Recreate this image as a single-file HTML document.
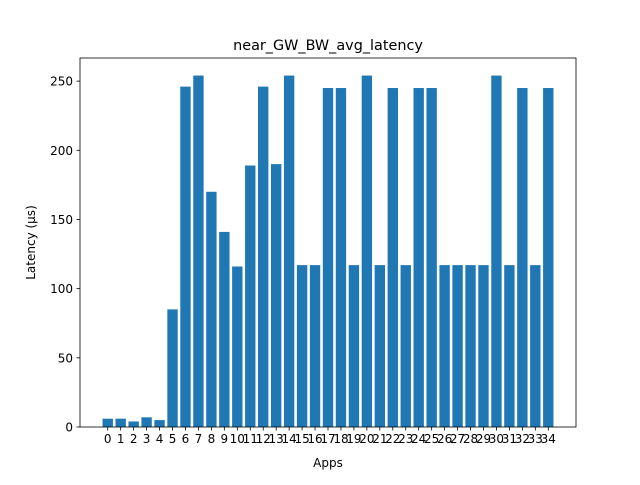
<!DOCTYPE html>
<html><head><meta charset="utf-8"><style>
body{margin:0;background:#fff}
svg text{font-family:"DejaVu Sans","Liberation Sans",sans-serif;fill:#000}
</style></head><body>
<svg id="chart" width="640" height="480" xmlns="http://www.w3.org/2000/svg">
<rect width="640" height="480" fill="#fff"/>
<text x="328" y="50" font-size="14.4" text-anchor="middle">near_GW_BW_avg_latency</text>
<text x="328" y="467" font-size="12" text-anchor="middle">Apps</text>
<text transform="translate(35,242.5) rotate(-90)" font-size="12" text-anchor="middle">Latency (µs)</text>
<g id="bars"></g><g id="axes"></g>
</svg>
<script>
const categories = ["0","1","2","3","4","5","6","7","8","9","10","11","12","13","14","15","16","17","18","19","20","21","22","23","24","25","26","27","28","29","30","31","32","33","34"];
const latencies = [6,6,4,7,5,85,246,254,170,141,116,189,246,190,254,117,117,245,245,117,254,117,245,117,245,245,117,117,117,117,254,117,245,117,245];
const yTicks = [0,50,100,150,200,250];
const L=80,R=576,T=58,B=427;
const n=categories.length;
const xmin=-0.4-0.05*(n-1+0.8), xmax=n-1+0.4+0.05*(n-1+0.8);
const ymax=Math.max(...latencies)*1.05;
const x=v=>L+(v-xmin)/(xmax-xmin)*(R-L);
const y=v=>B-v/ymax*(B-T);
const NS="http://www.w3.org/2000/svg";
const bars=document.getElementById('bars'), axes=document.getElementById('axes');
function mk(tag,attrs,parent){const e=document.createElementNS(NS,tag);for(const k in attrs)e.setAttribute(k,attrs[k]);parent.appendChild(e);return e;}
latencies.forEach((v,i)=>{
  const r=mk('rect',{x:x(i-0.4),y:y(v),width:x(0.8)-x(0),height:B-y(v),fill:'#1f77b4'},bars);
  
  
  mk('line',{x1:x(i),x2:x(i),y1:B,y2:B+3.5,stroke:'#000','stroke-width':0.8},axes);
  const t=mk('text',{x:x(i),y:B+16,'font-size':12,'text-anchor':'middle'},axes);
  t.textContent=categories[i];
  
  
});
yTicks.forEach(v=>{
  mk('line',{x1:L-3.5,x2:L,y1:y(v),y2:y(v),stroke:'#000','stroke-width':0.8},axes);
  const t=mk('text',{x:L-7,y:y(v)+4.5,'font-size':12,'text-anchor':'end'},axes);
  t.textContent=v;
  
  
});
const f=mk('rect',{x:L,y:T,width:R-L,height:B-T,fill:'none',stroke:'#000','stroke-width':0.8},axes);


</script>
</body></html>
